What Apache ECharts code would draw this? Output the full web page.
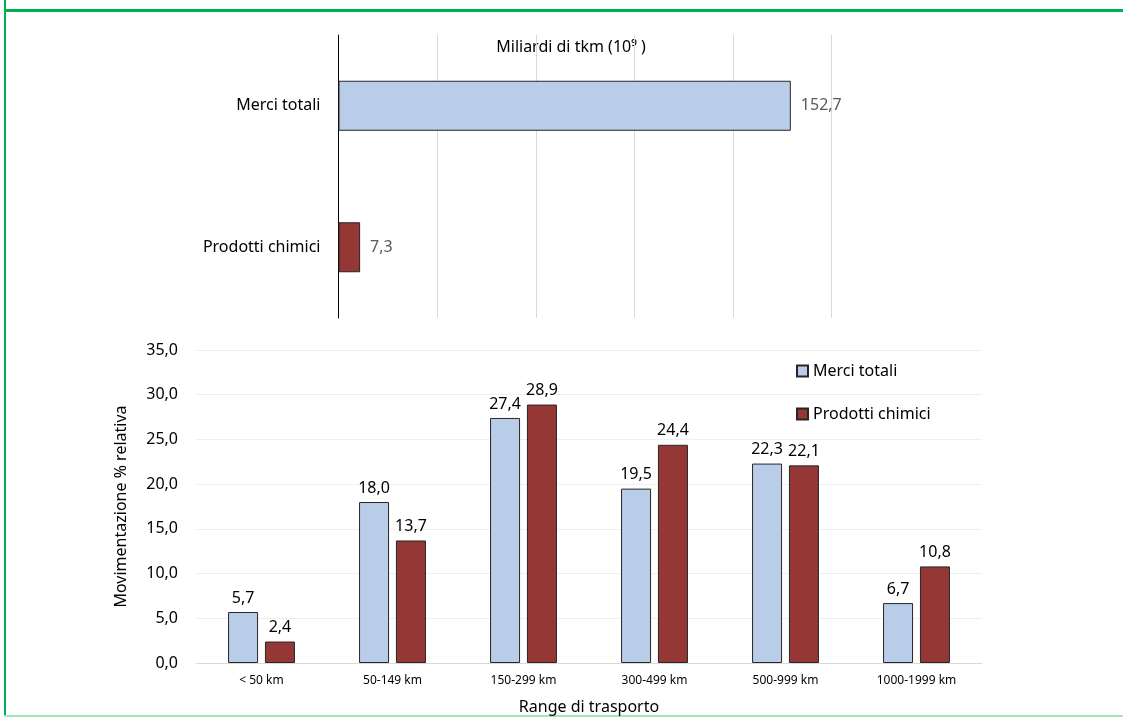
<!DOCTYPE html>
<html>
<head>
<meta charset="utf-8">
<script src="https://cdn.jsdelivr.net/npm/echarts@6/dist/echarts.min.js"></script>
<style>
html,body{margin:0;padding:0;background:#fff;}
#chart{width:1123px;height:717px;}
</style>
</head>
<body>
<div id="chart"></div>
<script>
// ---- data ----
const topCategories = ['Merci totali', 'Prodotti chimici'];
const topValues = [152.7, 7.3];
const rangeCategories = ['< 50 km', '50-149 km', '150-299 km', '300-499 km', '500-999 km', '1000-1999 km'];
const merciTotali = [5.7, 18.0, 27.4, 19.5, 22.3, 6.7];
const prodottiChimici = [2.4, 13.7, 28.9, 24.4, 22.1, 10.8];
const seriesNames = ['Merci totali', 'Prodotti chimici'];
const topTitle = 'Miliardi di tkm (10⁹ )';
const yAxisTitle = 'Movimentazione % relativa';
const xAxisTitle = 'Range di trasporto';

const BLUE = '#B9CDE9';
const RED = '#953735';
const EDGE = '#262626';
const FONT = 'Noto Sans';
const fmt = v => Number(v).toFixed(1).replace('.', ',');

const chart = echarts.init(document.getElementById('chart'), null, {renderer: 'canvas'});
chart.setOption({
  animation: false,
  backgroundColor: '#fff',
  textStyle: {fontFamily: FONT},
  graphic: [
    {type: 'rect', shape: {x: 4, y: 0, width: 2, height: 717}, style: {fill: '#00B050'}, silent: true},
    {type: 'rect', shape: {x: 4, y: 9, width: 1119, height: 3}, style: {fill: '#00B050'}, silent: true},
    {type: 'rect', shape: {x: 4, y: 715, width: 1119, height: 2}, style: {fill: '#A3E6BE'}, silent: true},
    {type: 'text', x: 571, y: 47, style: {text: topTitle, fill: '#000', fontSize: 16, fontFamily: FONT, align: 'center', verticalAlign: 'middle'}, silent: true}
  ],
  grid: [
    {left: 338.5, right: 291.3, top: 35, bottom: 399},
    {left: 196, right: 141, top: 350, bottom: 54}
  ],
  legend: {
    data: seriesNames,
    orient: 'vertical',
    left: 791, top: 358,
    itemWidth: 11, itemHeight: 11, itemGap: 27,
    icon: 'rect',
    textStyle: {fontSize: 16, color: '#000', fontFamily: FONT}
  },
  xAxis: [
    {
      type: 'value', gridIndex: 0, min: 0, max: 166.5, interval: 33.3,
      axisLabel: {show: false}, axisLine: {show: false}, axisTick: {show: false},
      splitLine: {show: true, lineStyle: {color: '#d9d9d9', width: 1}}
    },
    {
      type: 'category', gridIndex: 1, data: rangeCategories,
      axisLine: {lineStyle: {color: '#d9d9d9'}}, axisTick: {show: false},
      axisLabel: {fontSize: 12, color: '#000', margin: 12, fontFamily: FONT},
      name: xAxisTitle, nameLocation: 'middle', nameGap: 36,
      nameTextStyle: {fontSize: 16, color: '#000', fontFamily: FONT}
    }
  ],
  yAxis: [
    {
      type: 'category', gridIndex: 0, data: topCategories, inverse: true,
      axisLine: {show: true, lineStyle: {color: '#000', width: 1}}, axisTick: {show: false},
      axisLabel: {fontSize: 16, color: '#000', margin: 18, fontFamily: FONT},
      splitLine: {show: false}
    },
    {
      type: 'value', gridIndex: 1, min: 0, max: 35, interval: 5,
      axisLine: {show: false}, axisTick: {show: false},
      axisLabel: {fontSize: 16, color: '#000', margin: 18, formatter: fmt, fontFamily: FONT},
      splitLine: {lineStyle: {color: '#efefef', width: 1}},
      name: yAxisTitle, nameLocation: 'middle', nameGap: 67, nameRotate: 90,
      nameTextStyle: {fontSize: 16, color: '#000', fontFamily: FONT}
    }
  ],
  series: [
    {
      name: 'tkm', type: 'bar', xAxisIndex: 0, yAxisIndex: 0, barWidth: 50,
      data: topValues.map((v, i) => ({value: v, itemStyle: {color: i === 0 ? BLUE : RED}})),
      itemStyle: {borderColor: EDGE, borderWidth: 1},
      label: {show: true, position: 'right', distance: 10, color: '#595959', fontSize: 16, fontFamily: FONT, formatter: p => fmt(p.value)}
    },
    {
      name: seriesNames[0], type: 'bar', xAxisIndex: 1, yAxisIndex: 1, barWidth: 30, barGap: '23%',
      data: merciTotali,
      itemStyle: {color: BLUE, borderColor: EDGE, borderWidth: 1},
      label: {show: true, position: 'top', distance: 6, color: '#000', fontSize: 16, fontFamily: FONT, formatter: p => fmt(p.value)}
    },
    {
      name: seriesNames[1], type: 'bar', xAxisIndex: 1, yAxisIndex: 1, barWidth: 30, barGap: '23%',
      data: prodottiChimici,
      itemStyle: {color: RED, borderColor: EDGE, borderWidth: 1},
      label: {show: true, position: 'top', distance: 6, color: '#000', fontSize: 16, fontFamily: FONT, formatter: p => fmt(p.value)}
    }
  ]
});
</script>
</body>
</html>
